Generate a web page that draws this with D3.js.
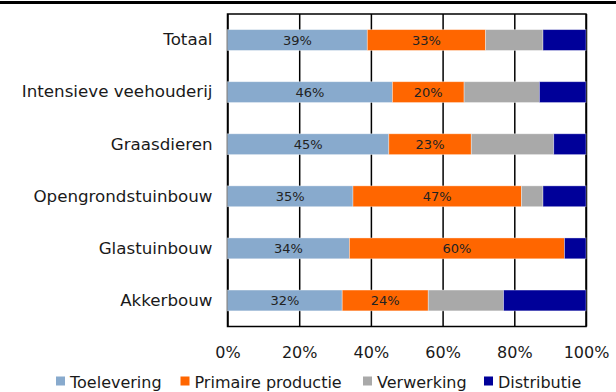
<!DOCTYPE html>
<html>
<head>
<meta charset="utf-8">
<script src="https://cdn.jsdelivr.net/npm/d3@7"></script>
<style>
  html, body { margin: 0; padding: 0; background: #fff; }
  svg { display: block; font-family: "DejaVu Sans", Verdana, sans-serif; }
</style>
</head>
<body>
<svg id="chart" width="616" height="392"></svg>
<script>
// Share of each chain link per sector (percent)
const categories = ["Totaal", "Intensieve veehouderij", "Graasdieren", "Opengrondstuinbouw", "Glastuinbouw", "Akkerbouw"];
const seriesNames = ["Toelevering", "Primaire productie", "Verwerking", "Distributie"];
const toelevering = [39, 46, 45, 35, 34, 32];
const primaireProductie = [33, 20, 23, 47, 60, 24];
const verwerking = [16, 21, 23, 6, 0, 21];
const distributie = [12, 13, 9, 12, 6, 23];
const xTicks = [0, 20, 40, 60, 80, 100];
// Segments that carry a value label
const labelledSeries = ["Toelevering", "Primaire productie"];

const colors = ["#88aacd", "#ff6600", "#a9a9a9", "#000099"];

const rows = categories.map((c, i) => ({
  category: c,
  "Toelevering": toelevering[i],
  "Primaire productie": primaireProductie[i],
  "Verwerking": verwerking[i],
  "Distributie": distributie[i]
}));

const svg = d3.select("#chart");
const W = 616;
const plot = { left: 227.5, right: 586, top: 14, bottom: 326.5 };

// Heavy rule across the top of the page
svg.append("rect").attr("x", 0).attr("y", 1).attr("width", W).attr("height", 3).attr("fill", "#000");

const x = d3.scaleLinear().domain([0, 100]).range([plot.left, plot.right]);
const y = d3.scaleBand().domain(categories).range([plot.top, plot.bottom]).paddingInner(0.6).paddingOuter(0.3);
const color = d3.scaleOrdinal().domain(seriesNames).range(colors);

// Vertical gridlines
const grid = svg.append("g")
  .attr("transform", `translate(0,${plot.top})`)
  .call(d3.axisBottom(x).tickValues(xTicks).tickSize(plot.bottom - plot.top).tickFormat(""));
grid.select(".domain").remove();
grid.selectAll(".tick line").attr("stroke", "#000").attr("stroke-width", 1.5);

// Plot frame
svg.append("rect")
  .attr("x", plot.left).attr("y", plot.top)
  .attr("width", plot.right - plot.left).attr("height", plot.bottom - plot.top)
  .attr("fill", "none").attr("stroke", "#000").attr("stroke-width", 1.5);

// Stacked bars
const stack = d3.stack().keys(seriesNames)(rows);
const layers = svg.append("g").selectAll("g")
  .data(stack).join("g")
  .attr("fill", d => color(d.key));

layers.selectAll("rect")
  .data(d => d.map(p => Object.assign(p, { key: d.key })))
  .join("rect")
  .attr("x", d => x(d[0]))
  .attr("y", d => y(d.data.category))
  .attr("width", d => Math.max(0, x(d[1]) - x(d[0])))
  .attr("height", y.bandwidth())
  .attr("stroke", "#ffffff")
  .attr("stroke-opacity", 0.45)
  .attr("stroke-width", 0.8);

// Value labels inside the first two segments
layers.filter(d => labelledSeries.includes(d.key))
  .selectAll("text")
  .data(d => d)
  .join("text")
  .attr("x", d => (x(d[0]) + x(d[1])) / 2)
  .attr("y", d => y(d.data.category) + y.bandwidth() / 2)
  .attr("dy", "0.36em")
  .attr("text-anchor", "middle")
  .attr("fill", "#222")
  .attr("font-size", 13)
  .text(d => (d[1] - d[0]) + "%");

// Category axis
const yAxis = svg.append("g")
  .attr("transform", `translate(${plot.left},0)`)
  .call(d3.axisLeft(y).tickSize(0).tickPadding(15));
yAxis.select(".domain").remove();
yAxis.selectAll("text").attr("font-size", 16.7).attr("fill", "#1a1a1a")
  .attr("font-family", "DejaVu Sans, Verdana, sans-serif");

// Percentage axis
const xAxis = svg.append("g")
  .attr("transform", `translate(0,${plot.bottom})`)
  .call(d3.axisBottom(x).tickValues(xTicks).tickSize(0).tickPadding(20).tickFormat(d => d + "%"));
xAxis.select(".domain").remove();
xAxis.selectAll("text").attr("font-size", 16).attr("fill", "#1a1a1a")
  .attr("font-family", "DejaVu Sans, Verdana, sans-serif");

// Legend
const legendX = [56, 180.5, 363, 484];
const legend = svg.append("g").selectAll("g")
  .data(seriesNames).join("g")
  .attr("transform", (d, i) => `translate(${legendX[i]},376.5)`);
legend.append("rect").attr("width", 9).attr("height", 9).attr("fill", d => color(d));
legend.append("text")
  .attr("x", 14).attr("y", 11)
  .attr("font-size", 16).attr("fill", "#1a1a1a")
  .text(d => d);
</script>
</body>
</html>
